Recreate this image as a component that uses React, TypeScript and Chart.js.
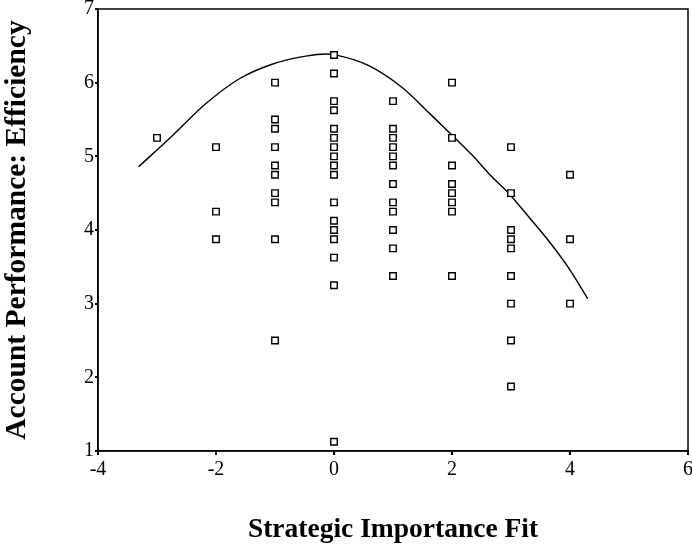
import React, { useEffect, useRef } from "react";
import { Chart, registerables } from "chart.js";

Chart.register(...registerables);

// Observed points, grouped by Strategic Importance Fit value
const yAtMinus3 = [5.25];
const yAtMinus2 = [5.125, 4.25, 3.875];
const yAtMinus1 = [6.0, 5.5, 5.375, 5.125, 4.875, 4.75, 4.5, 4.375, 3.875, 2.5];
const yAt0 = [6.375, 6.125, 5.75, 5.625, 5.375, 5.25, 5.125, 5.0, 4.875, 4.75, 4.375, 4.125, 4.0, 3.875, 3.625, 3.25, 1.125];
const yAt1 = [5.75, 5.375, 5.25, 5.125, 5.0, 4.875, 4.625, 4.375, 4.25, 4.0, 3.75, 3.375];
const yAt2 = [6.0, 5.25, 4.875, 4.625, 4.5, 4.375, 4.25, 3.375];
const yAt3 = [5.125, 4.5, 4.0, 3.875, 3.75, 3.375, 3.0, 2.5, 1.875];
const yAt4 = [4.75, 3.875, 3.0];

const groupX = [-3, -2, -1, 0, 1, 2, 3, 4];
const groupY = [yAtMinus3, yAtMinus2, yAtMinus1, yAt0, yAt1, yAt2, yAt3, yAt4];

// Fitted curve
const fitX = [-3.31, -2.74, -2.18, -1.61, -1.05, -0.48, -0.14, 0.0, 0.59, 1.16, 1.61, 2.01, 2.35, 2.63, 2.97, 3.31, 3.65, 3.99, 4.3];
const fitY = [4.86, 5.28, 5.71, 6.05, 6.25, 6.36, 6.39, 6.38, 6.23, 5.93, 5.59, 5.28, 5.01, 4.76, 4.49, 4.17, 3.84, 3.47, 3.07];

const xTickValues = [-4, -2, 0, 2, 4, 6];
const yTickValues = [1, 2, 3, 4, 5, 6, 7];

const FONT = "'Liberation Serif', 'Times New Roman', serif";

const framePlugin = {
  id: "frame",
  beforeDatasetsDraw(chart: any) {
    const { ctx, chartArea } = chart;
    ctx.save();
    ctx.strokeStyle = "#000";
    ctx.lineWidth = 1.5;
    ctx.strokeRect(chartArea.left, chartArea.top, chartArea.right - chartArea.left, chartArea.bottom - chartArea.top);
    ctx.restore();
  },
};

export default function App() {
  const ref = useRef<HTMLCanvasElement | null>(null);

  useEffect(() => {
    if (!ref.current) return;
    const points: { x: number; y: number }[] = [];
    groupX.forEach((x, i) => groupY[i].forEach((y) => points.push({ x, y })));
    const fit = fitX.map((x, i) => ({ x, y: fitY[i] }));

    const chart = new Chart(ref.current, {
      type: "scatter",
      data: {
        datasets: [
          {
            data: points,
            pointStyle: "rect",
            pointRadius: 4.6,
            pointBackgroundColor: "#fff",
            pointBorderColor: "#000",
            pointBorderWidth: 1.4,
          } as any,
          {
            data: fit,
            showLine: true,
            borderColor: "#000",
            borderWidth: 1.4,
            pointRadius: 0,
            cubicInterpolationMode: "monotone",
            fill: false,
          } as any,
        ],
      },
      plugins: [framePlugin],
      options: {
        animation: false,
        responsive: false,
        devicePixelRatio: 1,
        layout: { padding: { left: 0, right: 12, top: 0, bottom: 0 } },
        plugins: { legend: { display: false }, tooltip: { enabled: false } },
        scales: {
          x: {
            type: "linear",
            min: -4,
            max: 6,
            afterBuildTicks: (scale: any) => {
              scale.ticks = xTickValues.map((v) => ({ value: v }));
            },
            afterFit: (scale: any) => {
              scale.height = 99;
            },
            ticks: {
              color: "#000",
              font: { family: FONT, size: 20 },
              padding: 3,
              maxRotation: 0,
            },
            grid: {
              display: true,
              drawOnChartArea: false,
              drawTicks: true,
              tickLength: 4,
              color: "#000",
              lineWidth: 2,
            },
            border: { display: true, color: "#000", width: 1.5 },
            title: {
              display: true,
              text: "Strategic Importance Fit",
              color: "#000",
              font: { family: FONT, size: 27.5, weight: "bold" },
              padding: { top: 0, bottom: 4 },
            },
          },
          y: {
            type: "linear",
            min: 1,
            max: 7,
            afterBuildTicks: (scale: any) => {
              scale.ticks = yTickValues.map((v) => ({ value: v }));
            },
            afterFit: (scale: any) => {
              scale.width = 98;
            },
            ticks: {
              color: "#000",
              font: { family: FONT, size: 20, lineHeight: 0.8 },
              padding: 1,
            },
            grid: {
              display: true,
              drawOnChartArea: false,
              drawTicks: true,
              tickLength: 3,
              color: "#000",
              lineWidth: 2,
            },
            border: { display: true, color: "#000", width: 1.5 },
            title: {
              display: true,
              text: "Account Performance: Efficiency",
              color: "#000",
              font: { family: FONT, size: 29.5, weight: "bold" },
              padding: { top: 0, bottom: 0 },
            },
          },
        },
      } as any,
    });
    return () => chart.destroy();
  }, []);

  return (
    <div
      style={{
        position: "fixed",
        left: 0,
        top: 0,
        width: 692,
        height: 550,
        overflow: "hidden",
        background: "#fff",
      }}
    >
      <canvas ref={ref} width={700} height={550} style={{ width: 700, height: 550, display: "block" }} />
    </div>
  );
}
